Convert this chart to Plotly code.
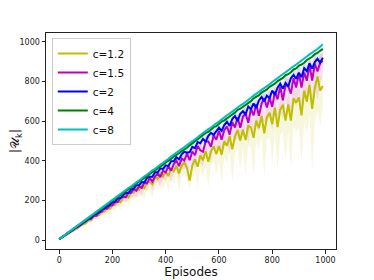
import plotly.graph_objects as go

episodes = list(range(0, 1000, 10))

c12 = [5,13,21,31,36,48,55,61,73,79,
       85,99,101,119,121,126,143,144,162,158,
       177,178,197,191,213,227,215,240,240,263,
       254,276,262,295,294,282,320,309,338,320,
       346,323,361,347,375,337,376,393,364,300,
       377,408,370,428,403,448,395,448,473,433,
       475,431,499,476,524,458,523,555,503,557,
       505,577,569,516,603,565,627,539,619,643,
       585,668,570,658,683,603,685,603,715,693,
       720,629,754,698,783,662,766,826,755,778]

c15 = [5,13,24,29,41,48,60,65,75,85,
       91,105,107,121,123,141,143,161,159,174,
       175,194,191,212,219,216,239,238,258,249,
       272,263,292,286,313,295,321,336,318,351,
       341,373,350,382,401,373,411,402,436,403,
       447,428,475,453,446,499,498,471,529,506,
       551,506,555,573,532,595,568,619,567,622,
       639,592,663,629,686,627,688,716,669,720,
       672,749,710,774,705,783,778,739,817,770,
       842,769,846,804,883,805,890,851,895,905]

c2 = [5,13,23,34,41,51,61,68,79,89,
      95,107,112,127,133,139,155,159,172,177,
      191,194,210,212,227,239,238,255,260,277,
      277,293,292,314,319,319,342,342,362,359,
      377,373,398,398,418,408,433,446,441,444,
      471,464,495,489,511,497,526,541,531,552,
      567,551,580,597,576,611,626,601,637,650,
      635,674,661,689,666,705,722,701,729,716,
      755,732,769,789,764,793,774,817,833,814,
      845,822,867,853,892,865,898,915,895,920]

c4 = [5,14,23,34,43,53,62,72,82,91,
      101,110,120,131,139,149,160,168,178,189,
      197,207,218,226,236,247,255,265,276,284,
      294,305,313,323,334,342,352,363,371,381,
      392,399,410,421,428,438,449,456,466,478,
      488,499,511,517,527,541,546,556,570,575,
      586,598,604,614,628,634,643,657,663,672,
      685,692,701,715,721,731,744,750,760,773,
      779,789,802,808,818,832,837,847,861,866,
      880,886,895,909,915,925,938,944,955,965]

c8 = [5,15,24,35,46,54,64,75,83,94,
      105,113,124,135,143,154,164,172,184,193,
      202,214,222,233,244,252,263,271,283,292,
      301,313,322,331,343,352,360,372,381,390,
      402,410,421,432,440,451,461,469,481,490,
      499,511,519,530,541,549,560,568,580,589,
      598,610,618,630,638,649,659,667,679,687,
      699,707,718,729,737,748,758,766,778,786,
      798,806,817,828,836,847,857,865,877,886,
      895,907,915,926,937,945,956,964,976,988]

# spread of the shaded bands (below / above the mean)
c12_dn = [0,2,4,5,7,6,9,10,8,12,
          14,12,18,15,20,24,16,26,20,30,
          22,34,26,40,28,30,46,32,38,50,
          36,40,60,42,48,70,44,52,46,66,
          50,80,56,62,54,90,60,58,70,40,
          66,60,110,64,80,70,130,72,76,100,
          78,140,84,90,82,160,88,92,150,96,
          180,100,104,190,108,112,110,220,116,120,
          200,124,230,128,132,210,136,250,140,150,
          150,240,156,160,150,320,170,176,180,100]
c12_up = [0,2,3,3,4,5,5,6,6,7,
          8,8,10,9,11,12,10,13,12,14,
          14,15,14,17,16,16,19,18,18,21,
          20,20,23,22,22,26,24,24,26,28,
          26,30,28,30,29,34,31,30,34,36,
          33,35,38,36,37,36,42,38,40,42,
          40,46,42,44,43,50,46,45,50,48,
          52,48,50,55,50,52,54,58,54,56,
          58,56,62,58,60,64,60,66,62,62,
          62,70,64,66,64,72,66,40,68,60]
c15_dn = [0,2,3,5,4,7,8,6,10,9,
          12,10,16,12,18,14,20,16,24,18,
          20,26,22,30,24,28,34,26,38,30,
          32,44,34,38,30,48,36,42,56,40,
          46,40,60,44,48,64,50,46,70,54,
          50,72,56,60,80,58,62,86,60,66,
          64,90,68,70,96,72,74,100,76,70,
          80,104,78,84,110,82,86,116,84,88,
          120,90,94,124,92,96,98,130,96,100,
          98,136,100,104,140,106,108,144,110,60]
c15_up = [0,1,2,2,3,3,4,4,5,5,
          6,6,7,7,8,8,9,9,10,10,
          12,11,12,13,12,14,13,15,14,16,
          15,17,16,18,17,20,18,19,21,20,
          22,21,23,24,22,25,24,26,25,27,
          26,28,27,30,29,28,31,30,32,31,
          33,32,34,35,33,36,35,37,36,38,
          37,39,38,40,41,39,42,41,43,42,
          44,43,45,44,46,47,45,48,46,49,
          48,50,49,51,50,52,51,53,52,40]
c2_sd = [0,1,2,2,3,3,4,4,5,5,
         6,6,7,7,8,8,8,9,9,10,
         10,10,11,11,12,12,12,13,13,14,
         14,14,15,15,16,16,16,17,17,18,
         18,18,19,19,20,20,20,21,21,22,
         22,22,23,23,24,24,24,25,25,26,
         26,26,27,27,28,28,28,29,29,30,
         30,30,31,31,32,32,32,33,33,34,
         34,34,35,35,36,36,36,37,37,38,
         38,38,39,39,40,40,40,41,41,30]

names = ["c=1.2", "c=1.5", "c=2", "c=4", "c=8"]
colors = ["#bfbf00", "#bf00bf", "#0000ff", "#008000", "#00bfbf"]
band_colors = ["rgba(191,191,0,0.13)", "rgba(191,0,191,0.11)", "rgba(0,0,255,0.09)"]
means = [c12, c15, c2, c4, c8]
bands = [(c12, c12_dn, c12_up), (c15, c15_dn, c15_up), (c2, c2_sd, c2_sd)]

fig = go.Figure()
for (m, dn, up), bc in zip(bands, band_colors):
    lo = [a - b for a, b in zip(m, dn)]
    hi = [a + b for a, b in zip(m, up)]
    fig.add_trace(go.Scatter(x=episodes + episodes[::-1], y=hi + lo[::-1],
                             fill="toself", fillcolor=bc, line=dict(width=0),
                             mode="lines", hoverinfo="skip", showlegend=False))
for m, n, c in zip(means, names, colors):
    fig.add_trace(go.Scatter(x=episodes, y=m, mode="lines", name=n,
                             line=dict(color=c, width=2)))

axis_common = dict(showgrid=False, zeroline=False, showline=True, linecolor="#222",
                   linewidth=1, mirror=True, ticks="outside", ticklen=3.5, tickwidth=0.8,
                   tickcolor="#222", tickfont=dict(size=8, color="#222"), automargin=False)
fig.update_layout(
    width=366, height=272,
    margin=dict(l=38, r=38, t=25, b=31),
    paper_bgcolor="white", plot_bgcolor="white",
    font=dict(family="DejaVu Sans", color="#111"),
    xaxis=dict(range=[-49.5, 1039.5], tickvals=[0, 200, 400, 600, 800, 1000],
               title=dict(text="Episodes", font=dict(size=12), standoff=1), **axis_common),
    yaxis=dict(range=[-45, 1045], tickvals=[0, 200, 400, 600, 800, 1000],
               title=dict(text="|𝒰<sub>k</sub>|", font=dict(size=12), standoff=4), **axis_common),
    legend=dict(x=0.02, y=0.977, xanchor="left", yanchor="top",
                bgcolor="rgba(255,255,255,0.8)", bordercolor="#ccc", borderwidth=1,
                font=dict(size=10.5), tracegroupgap=0, itemwidth=30),
    showlegend=True,
)
fig.write_html("out.html")
